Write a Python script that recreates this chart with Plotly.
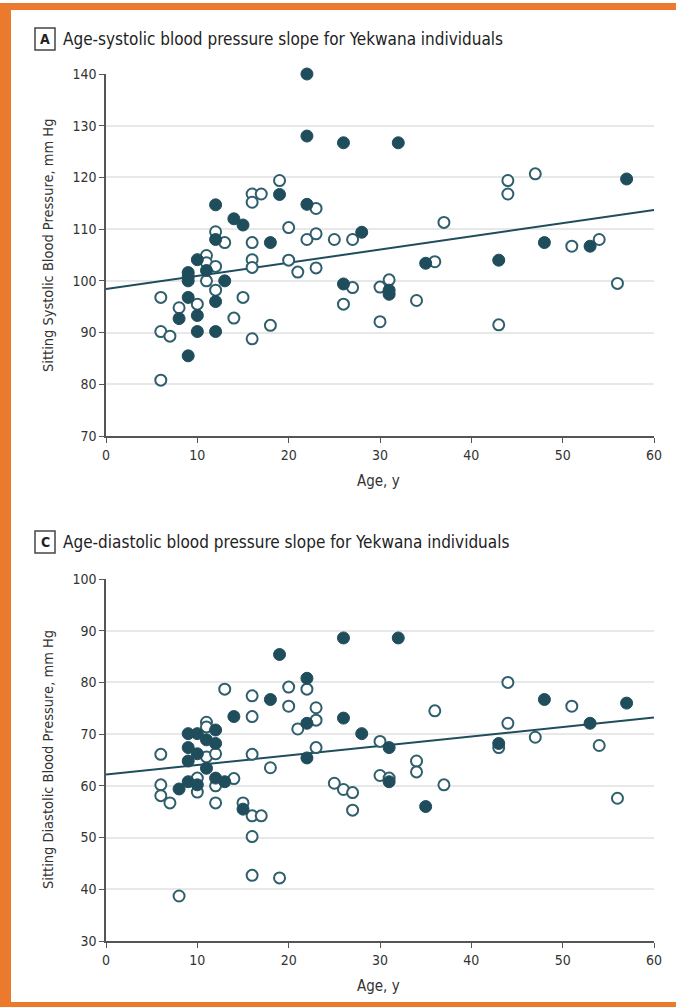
import plotly.graph_objects as go

# ---------------- data ----------------
# Panel A: systolic
sys_filled_age = [22, 22, 26, 32, 57, 19, 12, 22, 14, 15, 12, 18, 28, 48, 53, 43, 35, 10, 11,
                  9, 9, 9, 13, 26, 31, 31, 9, 12, 10, 8, 10, 12, 9]
sys_filled_bp = [140, 128, 126.7, 126.7, 119.7, 116.7, 114.7, 114.8, 112.0, 110.8, 108.0, 107.4,
                 109.4, 107.4, 106.7, 104.0, 103.4, 104.1, 102.0, 101.6, 100.8, 100.0, 100.0, 99.4,
                 98.2, 97.4, 96.8, 96.0, 93.3, 92.7, 90.2, 90.2, 85.5]
sys_open_age = [19, 16, 17, 16, 23, 12, 13, 16, 20, 22, 23, 25, 27, 11, 11, 12, 11, 16, 16, 20,
                21, 23, 6, 10, 8, 12, 15, 14, 18, 16, 6, 7, 6, 26, 27, 30, 30, 31, 34, 36, 37,
                44, 44, 47, 51, 54, 56, 43]
sys_open_bp = [119.4, 116.8, 116.8, 115.2, 114.0, 109.5, 107.4, 107.4, 110.3, 108.0, 109.1, 108.0,
               108.0, 104.9, 103.5, 102.8, 100.0, 104.1, 102.6, 104.0, 101.7, 102.5, 96.8, 95.5,
               94.8, 98.2, 96.8, 92.8, 91.4, 88.8, 90.2, 89.3, 80.8, 95.5, 98.7, 98.8, 92.1,
               100.2, 96.2, 103.7, 111.3, 119.4, 116.8, 120.7, 106.7, 108.0, 99.5, 91.5]
sys_fit_age = [0, 60]
sys_fit_bp = [98.4, 113.7]

# Panel C: diastolic
dia_filled_age = [32, 26, 19, 22, 18, 48, 57, 14, 26, 22, 53, 28, 9, 10, 12, 11, 12, 9, 10, 9,
                  11, 22, 43, 31, 31, 35, 9, 10, 8, 12, 13, 15]
dia_filled_bp = [88.6, 88.6, 85.4, 80.8, 76.7, 76.7, 76.0, 73.4, 73.1, 72.1, 72.1, 70.1, 70.1,
                 70.1, 70.8, 68.9, 68.2, 67.4, 66.2, 64.8, 63.4, 65.4, 68.2, 67.4, 60.8, 56.0,
                 60.8, 60.2, 59.4, 61.5, 60.8, 55.5]
dia_open_age = [44, 51, 36, 44, 47, 54, 43, 30, 34, 34, 30, 31, 37, 56, 22, 20, 13, 16, 20, 23,
                23, 16, 21, 11, 11, 11, 12, 6, 16, 18, 23, 25, 26, 27, 27, 10, 10, 12, 14, 6, 6,
                7, 12, 15, 16, 17, 16, 16, 19, 8]
dia_open_bp = [80.0, 75.4, 74.5, 72.1, 69.4, 67.8, 67.4, 68.6, 64.8, 62.7, 62.0, 61.5, 60.2,
               57.6, 78.7, 79.1, 78.7, 77.4, 75.4, 75.1, 72.7, 73.4, 71.0, 72.3, 71.4, 65.6, 66.2,
               66.1, 66.1, 63.5, 67.4, 60.5, 59.3, 58.7, 55.3, 61.5, 58.8, 60.0, 61.4, 60.2, 58.1,
               56.7, 56.7, 56.7, 54.2, 54.2, 50.2, 42.7, 42.2, 38.7]
dia_fit_age = [0, 60]
dia_fit_bp = [62.2, 73.2]

x_ticks = [0, 10, 20, 30, 40, 50, 60]
sys_ticks = [70, 80, 90, 100, 110, 120, 130, 140]
dia_ticks = [30, 40, 50, 60, 70, 80, 90, 100]

titleA = "Age-systolic blood pressure slope for Yekwana individuals"
titleC = "Age-diastolic blood pressure slope for Yekwana individuals"
ytitleA = "Sitting Systolic Blood Pressure, mm Hg"
ytitleC = "Sitting Diastolic Blood Pressure, mm Hg"
xtitle = "Age, y"

# ---------------- style ----------------
W, H = 676, 1007
TEAL = "#1f4d5c"
OPEN_LINE = "#2f5f6c"
ORANGE = "#ec7a2c"
FONT = "Liberation Sans Narrow, DejaVu Sans Condensed, Roboto Condensed, Arial Narrow, sans-serif"
TXT = "#333333"

def px(x):
    return x / W

def py(y):
    return 1 - y / H

fig = go.Figure()

def add_panel(xa, ya, fa, fb, oa, ob, fitx, fity):
    fig.add_trace(go.Scatter(x=fitx, y=fity, mode="lines", xaxis=xa, yaxis=ya,
                             line=dict(color=TEAL, width=2), hoverinfo="skip",
                             showlegend=False, cliponaxis=False))
    fig.add_trace(go.Scatter(x=oa, y=ob, mode="markers", xaxis=xa, yaxis=ya,
                             marker=dict(size=11, color="white",
                                         line=dict(color=OPEN_LINE, width=2)),
                             showlegend=False, cliponaxis=False))
    fig.add_trace(go.Scatter(x=fa, y=fb, mode="markers", xaxis=xa, yaxis=ya,
                             marker=dict(size=12, color=TEAL,
                                         line=dict(color=TEAL, width=1)),
                             showlegend=False, cliponaxis=False))

add_panel("x", "y", sys_filled_age, sys_filled_bp, sys_open_age, sys_open_bp, sys_fit_age, sys_fit_bp)
add_panel("x2", "y2", dia_filled_age, dia_filled_bp, dia_open_age, dia_open_bp, dia_fit_age, dia_fit_bp)

xdom = [px(106), px(654)]
axis_common = dict(showline=True, linecolor="#555555", linewidth=1.5, ticks="outside",
                   ticklen=5, tickwidth=1.2, tickcolor="#555555", zeroline=False,
                   automargin=False,
                   tickfont=dict(family=FONT, size=14, color=TXT), fixedrange=True)

fig.update_layout(
    width=W, height=H, margin=dict(l=0, r=0, t=0, b=0, pad=0, autoexpand=False),
    paper_bgcolor="white", plot_bgcolor="white",
    font=dict(family=FONT, color=TXT),
    xaxis=dict(domain=xdom, range=[0, 60], tickvals=x_ticks, showgrid=False,
               anchor="y", **axis_common),
    yaxis=dict(domain=[py(436), py(74)], range=[70, 140], tickvals=sys_ticks,
               showgrid=True, gridcolor="#e8e8e8", gridwidth=1.5, anchor="x", **axis_common),
    xaxis2=dict(domain=xdom, range=[0, 60], tickvals=x_ticks, showgrid=False,
                anchor="y2", **axis_common),
    yaxis2=dict(domain=[py(941), py(579)], range=[30, 100], tickvals=dia_ticks,
                showgrid=True, gridcolor="#e8e8e8", gridwidth=1.5, anchor="x2", **axis_common),
)

shapes = [
    dict(type="rect", xref="paper", yref="paper", x0=0, x1=1, y0=py(10), y1=py(3),
         fillcolor=ORANGE, line=dict(width=0), layer="below"),
    dict(type="rect", xref="paper", yref="paper", x0=0, x1=px(11), y0=0, y1=py(3),
         fillcolor=ORANGE, line=dict(width=0), layer="below"),
    dict(type="rect", xref="paper", yref="paper", x0=0, x1=1, y0=0, y1=py(1002),
         fillcolor=ORANGE, line=dict(width=0), layer="below"),
    dict(type="rect", xref="paper", yref="paper", x0=px(35), x1=px(55), y0=py(50), y1=py(28),
         line=dict(color="#444444", width=1.5), fillcolor="white"),
    dict(type="rect", xref="paper", yref="paper", x0=px(35), x1=px(55), y0=py(553), y1=py(531),
         line=dict(color="#444444", width=1.5), fillcolor="white"),
]
fig.update_layout(shapes=shapes)

ann = []
for letter, title, yc in [("A", titleA, 39), ("C", titleC, 542)]:
    ann.append(dict(text="<b>" + letter + "</b>", x=px(45), y=py(yc), xref="paper", yref="paper",
                    showarrow=False, font=dict(family=FONT, size=14, color="#222222"),
                    xanchor="center", yanchor="middle"))
    ann.append(dict(text=title, x=px(61), y=py(yc), xref="paper", yref="paper",
                    showarrow=False, font=dict(family=FONT, size=17, color="#222222"),
                    xanchor="left", yanchor="middle"))
for t, yc in [(ytitleA, 246), (ytitleC, 760)]:
    ann.append(dict(text=t, x=px(48), y=py(yc), xref="paper", yref="paper", textangle=-90,
                    showarrow=False, font=dict(family=FONT, size=14.5, color=TXT),
                    xanchor="center", yanchor="middle"))
for yc in [481, 986]:
    ann.append(dict(text=xtitle, x=px(378), y=py(yc), xref="paper", yref="paper",
                    showarrow=False, font=dict(family=FONT, size=15, color=TXT),
                    xanchor="center", yanchor="middle"))
fig.update_layout(annotations=ann)

fig.write_html(
    "out.html",
    config={"displayModeBar": False},
    post_script="document.body.style.margin='0px';document.body.style.padding='0px';"
                "document.body.style.overflow='hidden';",
)
